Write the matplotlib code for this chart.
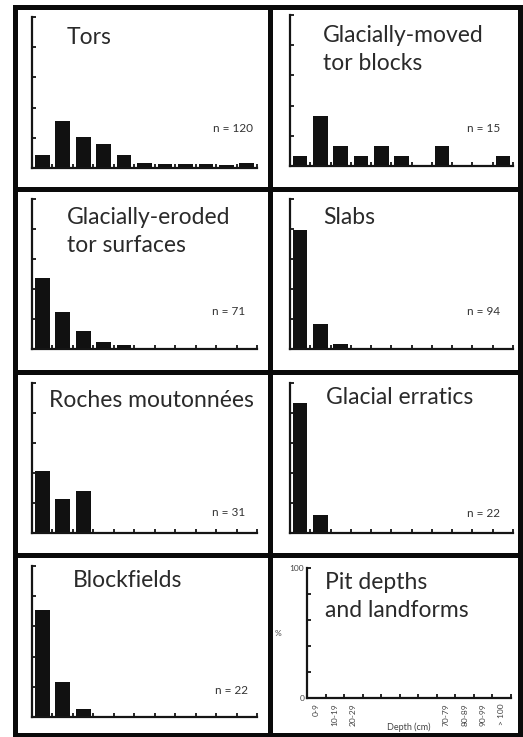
import numpy as np
import matplotlib
matplotlib.use('Agg')
import matplotlib.pyplot as plt
from matplotlib.lines import Line2D

plt.rcParams['font.family'] = ['Lato', 'DejaVu Sans']

W, H = 523, 737

# depth classes (cm)
depthLabels = ['0-9', '10-19', '20-29', '', '', '', '', '70-79', '80-89', '90-99', '> 100']

# % of pits in each depth class
tors           = [8.3, 30.8, 20.8, 15.8, 8.3, 3.3, 2.5, 2.5, 2.5, 1.7, 3.3]
movedBlocks    = [6.7, 33.3, 13.3, 6.7, 13.3, 6.7, 0, 13.3, 0, 0, 6.7]
erodedSurfaces = [47, 24.4, 12, 4.4, 2.7, 0, 0, 0, 0, 0, 0]
slabs          = [79, 16.5, 3.3, 0, 0, 0, 0, 0, 0, 0, 0]
roches         = [41.5, 23, 28, 0, 0, 0, 0, 0, 0, 0, 0]
erratics       = [87, 12, 0, 0, 0, 0, 0, 0, 0, 0, 0]
blockfields    = [71, 23, 5, 0, 0, 0, 0, 0, 0, 0, 0]

titles  = ['Tors', 'Glacially-moved\ntor blocks', 'Glacially-eroded\ntor surfaces', 'Slabs',
           'Roches moutonnées', 'Glacial erratics', 'Blockfields', 'Pit depths\nand landforms']
nCounts = [120, 15, 71, 94, 31, 22, 22, None]
series  = [tors, movedBlocks, erodedSurfaces, slabs, roches, erratics, blockfields, None]

# panel layout in pixels: axes (x0, y0, x1, y1), title (x, first baseline y), n label (right x, baseline y)
axBoxes   = [(32, 17, 257, 168), (290, 15, 513, 166),
             (32, 199, 257, 349), (290, 199, 513, 349),
             (32, 383, 257, 533), (290, 383, 513, 533),
             (32, 566, 257, 717), (307, 568, 511, 698)]
titlePos  = [(67, 44), (323, 42), (67, 224), (323, 224),
             (49, 407), (326, 404), (73, 587), (325, 589)]
nPos      = [(253, 132), (500, 132), (245, 315), (500, 315),
             (245, 516), (500, 517), (248, 694), None]
lineStep  = 28  # px between title lines

fig = plt.figure(figsize=(W/100, H/100), dpi=100)
fig.patch.set_facecolor('white')

def rect(box):
    x0, y0, x1, y1 = box
    return [x0/W, 1 - y1/H, (x1 - x0)/W, (y1 - y0)/H]

nCat = len(depthLabels)
pos = np.arange(nCat) + 0.5

for i in range(len(titles)):
    ax = fig.add_axes(rect(axBoxes[i]))
    if series[i] is not None:
        ax.bar(pos, series[i], width=0.72, color='#111111', zorder=1)
    ax.set_xlim(0, nCat)
    ax.set_ylim(0, 100)
    for s in ['top', 'right']:
        ax.spines[s].set_visible(False)
    for s in ['left', 'bottom']:
        ax.spines[s].set_linewidth(1.6)
        ax.spines[s].set_color('#151515')
        ax.spines[s].set_zorder(3)
    ax.set_xticks(np.arange(1, nCat + 1))
    ax.set_yticks(np.arange(0, 101, 20))
    ax.tick_params(direction='in', length=3.2, width=1.3, color='#151515')
    ax.set_xticklabels([])
    ax.set_yticklabels([])
    ax.patch.set_alpha(0)

    if series[i] is None:
        # the key panel: axis labels only
        ax.set_yticklabels(['0', '', '', '', '', '100'], fontsize=6, color='#444444')
        ax.tick_params(axis='y', pad=2)
        ax.set_ylabel('%', fontsize=6, color='#444444', rotation=0, labelpad=8, va='center')
        ax.set_xticks(pos, minor=True)
        ax.set_xticklabels(depthLabels, minor=True, rotation=90, fontsize=6, color='#444444')
        ax.tick_params(axis='x', which='minor', length=0, pad=4)
        ax.text(0.5, -0.19, 'Depth (cm)', transform=ax.transAxes, ha='center', va='top',
                fontsize=6.5, color='#444444')
    else:
        nx, ny = nPos[i]
        fig.text(nx/W, 1 - ny/H, 'n = {}'.format(nCounts[i]), ha='right', va='baseline',
                 fontsize=8.5, color='#333333')

    tx, ty = titlePos[i]
    for k, line in enumerate(titles[i].split('\n')):
        fig.text(tx/W, 1 - (ty + k*lineStep)/H, line, ha='left', va='baseline', fontsize=16.5,
                 color='#2a2a2a')

# heavy frame and panel dividers
lw = 3.6
xs = [14.5, 270, 520]
ys = [6.5, 189, 372, 554.5, 735]
for x in xs:
    fig.add_artist(Line2D([x/W, x/W], [1 - ys[0]/H, 1 - ys[-1]/H], color='#0a0a0a', lw=lw))
for y in ys:
    fig.add_artist(Line2D([xs[0]/W, xs[-1]/W], [1 - y/H, 1 - y/H], color='#0a0a0a', lw=lw))

fig.savefig('out.png', dpi=100, facecolor='white')
